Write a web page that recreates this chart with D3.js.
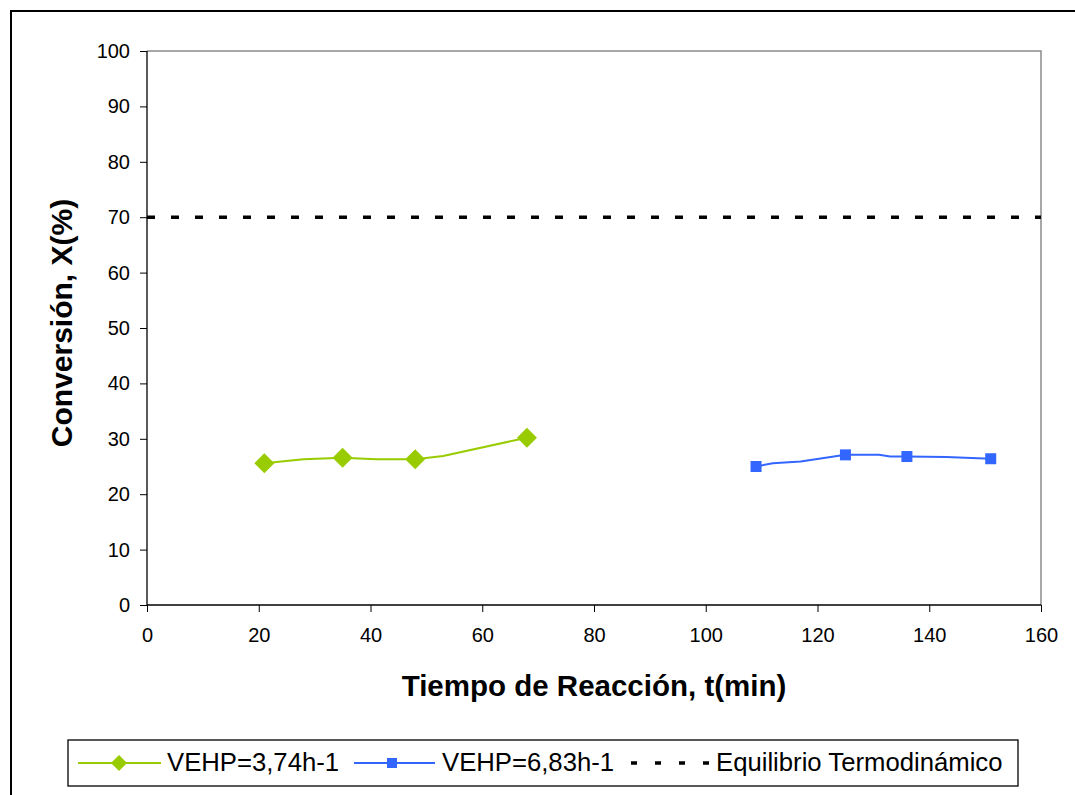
<!DOCTYPE html>
<html>
<head>
	<meta charset="UTF-8">
	<title>Conversion</title>
	<script src="https://cdn.jsdelivr.net/npm/d3@7"></script>
	<style>
		body { margin: 0; background: #fff; }
		text { font-family: "Liberation Sans", Arial, sans-serif; }
	</style>
</head>
<body>
	<script type="text/javascript">
		// series data
		var markTime1 = [21, 35, 48, 68];
		var markConv1 = [25.6, 26.6, 26.3, 30.2];
		var lineTime1 = [21, 28, 35, 41, 48, 53, 68];
		var lineConv1 = [25.6, 26.3, 26.6, 26.3, 26.3, 26.9, 30.2];

		var markTime2 = [109, 125, 136, 151];
		var markConv2 = [25.0, 27.1, 26.8, 26.4];
		var lineTime2 = [109, 112, 117, 125, 131, 133, 136, 143, 151];
		var lineConv2 = [25.0, 25.6, 25.9, 27.1, 27.1, 26.8, 26.8, 26.7, 26.4];

		var equilibrio = 70;
		var xTicks = [0, 20, 40, 60, 80, 100, 120, 140, 160];
		var yTicks = [0, 10, 20, 30, 40, 50, 60, 70, 80, 90, 100];
		var legendNames = ["VEHP=3,74h-1", "VEHP=6,83h-1", "Equilibrio Termodinámico"];

		var green = "#99cc00", blue = "#3366ff";

		//create the canvas
		var svg = d3.select("body").append("svg")
			.attr("width", 1075)
			.attr("height", 795);

		// outer chart frame
		svg.append("rect")
			.attr("x", 11).attr("y", 11)
			.attr("width", 1075).attr("height", 800)
			.attr("fill", "none").attr("stroke", "#000").attr("stroke-width", 2);

		var x = d3.scaleLinear().domain([0, 160]).range([147, 1041]);
		var y = d3.scaleLinear().domain([0, 100]).range([605, 51]);

		// plot area border (top/right grey)
		svg.append("path")
			.attr("d", "M" + x(0) + "," + y(100) + "H" + x(160) + "V" + y(0))
			.attr("fill", "none").attr("stroke", "#8c8c8c").attr("stroke-width", 1.5);

		var xAxis = svg.append("g")
			.attr("transform", "translate(0," + y(0) + ")")
			.call(d3.axisBottom(x).tickValues(xTicks).tickSize(7).tickPadding(16));
		var yAxis = svg.append("g")
			.attr("transform", "translate(" + x(0) + ",0)")
			.call(d3.axisLeft(y).tickValues(yTicks).tickSize(7).tickPadding(10));

		[xAxis, yAxis].forEach(function(g) {
			g.select(".domain").attr("stroke", "#000").attr("stroke-width", 1.3);
			g.selectAll(".tick line").attr("stroke", "#000");
			g.selectAll("text").attr("font-size", 20).attr("fill", "#000")
				.attr("font-family", "Liberation Sans, Arial, sans-serif");
		});
		xAxis.select(".domain").attr("d", "M" + x(0) + ",0H" + x(160));
		yAxis.select(".domain").attr("d", "M0," + y(0) + "V" + y(100));

		// axis titles
		svg.append("text")
			.attr("x", 594).attr("y", 696)
			.attr("text-anchor", "middle")
			.attr("font-size", 29.5).attr("font-weight", "bold")
			.text("Tiempo de Reacción, t(min)");
		svg.append("text")
			.attr("transform", "translate(72,323) rotate(-90)")
			.attr("text-anchor", "middle")
			.attr("font-size", 30).attr("font-weight", "bold")
			.text("Conversión, X(%)");

		// equilibrium line
		svg.append("line")
			.attr("x1", x(0)).attr("x2", x(160))
			.attr("y1", y(equilibrio)).attr("y2", y(equilibrio))
			.attr("stroke", "#000").attr("stroke-width", 3.5)
			.attr("stroke-dasharray", "8,16");

		var line = d3.line()
			.x(function(d) { return x(d[0]); })
			.y(function(d) { return y(d[1]); });

		svg.append("path")
			.datum(d3.zip(lineTime1, lineConv1))
			.attr("d", line)
			.attr("fill", "none").attr("stroke", green).attr("stroke-width", 2);
		svg.append("path")
			.datum(d3.zip(lineTime2, lineConv2))
			.attr("d", line)
			.attr("fill", "none").attr("stroke", blue).attr("stroke-width", 2);

		var diamond = d3.symbol().type(d3.symbolSquare).size(200);
		svg.selectAll(".m1")
			.data(d3.zip(markTime1, markConv1))
			.enter().append("path")
			.attr("d", diamond)
			.attr("transform", function(d) { return "translate(" + x(d[0]) + "," + y(d[1]) + ") rotate(45)"; })
			.attr("fill", green);

		svg.selectAll(".m2")
			.data(d3.zip(markTime2, markConv2))
			.enter().append("rect")
			.attr("x", function(d) { return x(d[0]) - 5.5; })
			.attr("y", function(d) { return y(d[1]) - 5.5; })
			.attr("width", 11).attr("height", 11)
			.attr("fill", blue);

		// legend
		var lg = svg.append("g");
		lg.append("rect")
			.attr("x", 68).attr("y", 740)
			.attr("width", 950).attr("height", 46)
			.attr("fill", "#fff").attr("stroke", "#000").attr("stroke-width", 1.3);
		var ly = 763;
		lg.append("line").attr("x1", 78).attr("x2", 161).attr("y1", ly).attr("y2", ly)
			.attr("stroke", green).attr("stroke-width", 2);
		lg.append("path").attr("d", d3.symbol().type(d3.symbolSquare).size(130))
			.attr("transform", "translate(119," + ly + ") rotate(45)")
			.attr("fill", green);
		lg.append("line").attr("x1", 354).attr("x2", 435).attr("y1", ly).attr("y2", ly)
			.attr("stroke", blue).attr("stroke-width", 2);
		lg.append("rect").attr("x", 387).attr("y", ly - 5).attr("width", 10).attr("height", 10)
			.attr("fill", blue);
		lg.append("line").attr("x1", 631).attr("x2", 709).attr("y1", ly).attr("y2", ly)
			.attr("stroke", "#000").attr("stroke-width", 3.5).attr("stroke-dasharray", "6,18");

		var lx = [167, 442, 716];
		lg.selectAll(".lt")
			.data(legendNames)
			.enter().append("text")
			.attr("x", function(d, i) { return lx[i]; })
			.attr("y", 771)
			.attr("font-size", 25.7)
			.text(function(d) { return d; });
	</script>
</body>
</html>
